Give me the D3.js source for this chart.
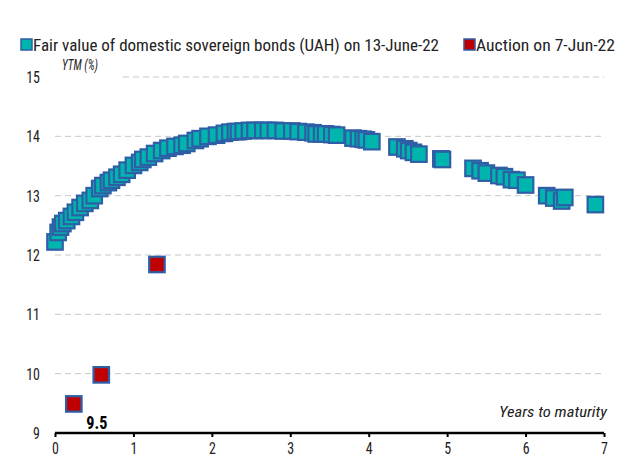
<!DOCTYPE html>
<html><head><meta charset="utf-8">
<script src="https://cdn.jsdelivr.net/npm/d3@7"></script>
<style>body{margin:0;background:#fff}text{font-family:"Liberation Sans Narrow","Arial Narrow","Roboto Condensed",Roboto,sans-serif}</style>
</head><body><svg id="c" width="617" height="470"></svg>
<script>
const fairX = [0.0,0.04,0.07,0.10,0.15,0.21,0.26,0.32,0.38,0.45,0.50,0.57,0.61,0.68,0.72,0.79,0.85,0.92,1.0,1.08,1.12,1.19,1.27,1.36,1.44,1.53,1.62,1.68,1.79,1.85,1.95,2.06,2.16,2.23,2.30,2.34,2.40,2.48,2.55,2.65,2.72,2.81,2.91,3.02,3.10,3.20,3.29,3.33,3.40,3.45,3.53,3.59,3.80,3.87,3.93,3.97,4.04,4.36,4.46,4.51,4.57,4.64,4.92,4.94,5.33,5.42,5.50,5.66,5.73,5.82,5.89,6.00,6.27,6.36,6.46,6.50,6.89];
const fairY = [12.22,12.38,12.47,12.53,12.58,12.65,12.72,12.80,12.87,12.92,13.00,13.12,13.17,13.22,13.26,13.31,13.36,13.43,13.51,13.56,13.61,13.65,13.71,13.76,13.80,13.83,13.85,13.88,13.93,13.96,14.00,14.02,14.05,14.07,14.08,14.08,14.09,14.10,14.10,14.10,14.10,14.10,14.09,14.09,14.08,14.07,14.06,14.04,14.04,14.04,14.03,14.02,13.97,13.96,13.95,13.94,13.91,13.82,13.79,13.76,13.73,13.70,13.62,13.61,13.46,13.42,13.38,13.34,13.32,13.27,13.26,13.18,13.00,12.96,12.91,12.97,12.85];
const aucX = [1.30,0.59,0.24];
const aucY = [11.84,9.98,9.49];
const xTicks = [0,1,2,3,4,5,6,7];
const yTicks = [9,10,11,12,13,14,15];
const legendLabels = ["Fair value of domestic sovereign bonds (UAH) on 13-June-22","Auction on 7-Jun-22"];

const svg = d3.select("#c");
const x = d3.scaleLinear().domain([0,7]).range([55,604]);
const y = d3.scaleLinear().domain([9,15]).range([433,77]);
const teal="#00B5AD", blue="#2E5FA6", red="#C00000";
const narrow = 0.82;

// gridlines
yTicks.filter(t=>t>9).forEach(t=>{
  svg.append("line").attr("x1", t===15?123:55).attr("x2",604)
    .attr("y1",y(t)).attr("y2",y(t))
    .attr("stroke","#c8c8c8").attr("stroke-width",1).attr("stroke-dasharray","6,4");
});
// y labels
svg.selectAll(".yl").data(yTicks).enter().append("text")
  .attr("transform",d=>`translate(40,${y(d)+6}) scale(${narrow},1)`).attr("text-anchor","end")
  .attr("font-size",17).attr("fill","#222").text(d=>d);
svg.append("text").attr("x",62).attr("y",70).attr("font-size",14).attr("font-style","italic").attr("fill","#222")
  .attr("textLength",36).attr("lengthAdjust","spacingAndGlyphs").text("YTM (%)");

// x axis
const xa = svg.append("g").attr("transform","translate(0,433)")
  .call(d3.axisBottom(x).tickValues(xTicks).tickSize(4).tickPadding(5).tickFormat(d3.format("d")));
xa.select(".domain").attr("stroke","#000").attr("stroke-width",2.5).attr("d","M55,0H604");
xa.selectAll(".tick line").attr("stroke","#000").attr("stroke-width",2);
xa.selectAll(".tick text").attr("font-size",17).attr("fill","#222").attr("transform",`scale(${narrow},1)`)
  .attr("x",0).style("font-family",'"Liberation Sans Narrow","Arial Narrow","Roboto Condensed",Roboto,sans-serif');
svg.append("text").attr("x",607).attr("y",417).attr("text-anchor","end").attr("font-size",15).attr("font-style","italic").attr("fill","#222")
  .attr("textLength",108).attr("lengthAdjust","spacingAndGlyphs").text("Years to maturity");

// points
const s=15.5;
const fair = fairX.map((v,i)=>({x:v,y:fairY[i]}));
svg.selectAll(".f").data(fair).enter().append("rect")
  .attr("x",d=>x(d.x)-s/2).attr("y",d=>y(d.y)-s/2).attr("width",s).attr("height",s)
  .attr("fill",teal).attr("stroke",blue).attr("stroke-width",2.2);
const auc = aucX.map((v,i)=>({x:v,y:aucY[i]}));
svg.selectAll(".a").data(auc).enter().append("rect")
  .attr("x",d=>x(d.x)-s/2).attr("y",d=>y(d.y)-s/2).attr("width",s).attr("height",s)
  .attr("fill",red).attr("stroke",blue).attr("stroke-width",2.2);
svg.append("text").attr("transform",`translate(${x(aucX[2])+23},${y(aucY[2])+25}) scale(0.9,1)`).attr("text-anchor","middle")
  .attr("font-size",18).attr("font-weight","bold").attr("fill","#000").text(d3.format(".1f")(9.5));

// legend
const lg = [{x:21,c:teal,t:legendLabels[0],w:406},{x:464,c:red,t:legendLabels[1],w:139}];
lg.forEach(l=>{
  svg.append("rect").attr("x",l.x).attr("y",39).attr("width",11).attr("height",11)
    .attr("fill",l.c).attr("stroke",blue).attr("stroke-width",1.5);
  svg.append("text").attr("x",l.x+12).attr("y",51).attr("font-size",17).attr("fill","#222")
    .attr("textLength",l.w).attr("lengthAdjust","spacingAndGlyphs").text(l.t);
});
</script></body></html>
